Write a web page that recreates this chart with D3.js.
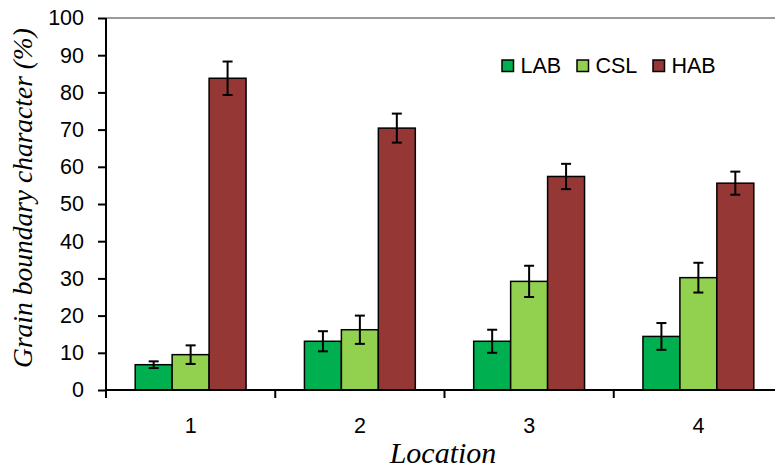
<!DOCTYPE html>
<html>
<head>
<meta charset="utf-8">
<script src="https://cdn.jsdelivr.net/npm/d3@7"></script>
<style>
  body { margin: 0; background: #fff; }
  svg { display: block; }
</style>
</head>
<body>
<svg id="chart"></svg>
<script>
const locations = ["1", "2", "3", "4"];
const series = ["LAB", "CSL", "HAB"];
const colors = ["#00b050", "#92d050", "#953735"];

// mean values per location, one array per series
const lab = [6.8, 13.1, 13.1, 14.4];
const csl = [9.5, 16.2, 29.2, 30.2];
const hab = [83.8, 70.4, 57.4, 55.6];

// error bar half-widths
const labErr = [0.9, 2.7, 3.1, 3.6];
const cslErr = [2.5, 3.8, 4.2, 4.0];
const habErr = [4.5, 3.9, 3.4, 3.1];

const yTicks = [0, 10, 20, 30, 40, 50, 60, 70, 80, 90, 100];

const values = [lab, csl, hab];
const errors = [labErr, cslErr, habErr];

const W = 775, H = 470;
const plotLeft = 106, plotRight = 783, plotTop = 18, plotBottom = 390;

const svg = d3.select("#chart").attr("width", W).attr("height", H);

const x0 = d3.scaleBand().domain(locations).range([plotLeft, plotRight]).padding(0);
const x1 = d3
  .scaleBand()
  .domain(series)
  .range([0, x0.bandwidth()])
  .paddingInner(0)
  .paddingOuter(0.79);
const y = d3.scaleLinear().domain([0, 100]).range([plotBottom, plotTop]);

// top border line
svg
  .append("line")
  .attr("x1", plotLeft)
  .attr("x2", plotRight)
  .attr("y1", plotTop)
  .attr("y2", plotTop)
  .attr("stroke", "#9a9a9a")
  .attr("stroke-width", 2);

// bars
const rows = [];
locations.forEach((loc, i) => {
  series.forEach((s, j) => {
    rows.push({ loc, s, j, v: values[j][i], e: errors[j][i] });
  });
});

const cx = (d) => x0(d.loc) + x1(d.s) + x1.bandwidth() / 2;

svg
  .selectAll(".bar")
  .data(rows)
  .enter()
  .append("rect")
  .attr("class", "bar")
  .attr("x", (d) => x0(d.loc) + x1(d.s))
  .attr("y", (d) => y(d.v))
  .attr("width", x1.bandwidth())
  .attr("height", (d) => y(0) - y(d.v))
  .attr("fill", (d) => colors[d.j])
  .attr("stroke", "#000")
  .attr("stroke-width", 1.5);

// error bars
const cap = 5;
const eb = svg.selectAll(".err").data(rows).enter().append("g").attr("class", "err");
eb.append("line")
  .attr("x1", cx)
  .attr("x2", cx)
  .attr("y1", (d) => y(d.v + d.e))
  .attr("y2", (d) => y(d.v - d.e));
eb.append("line")
  .attr("x1", (d) => cx(d) - cap)
  .attr("x2", (d) => cx(d) + cap)
  .attr("y1", (d) => y(d.v + d.e))
  .attr("y2", (d) => y(d.v + d.e));
eb.append("line")
  .attr("x1", (d) => cx(d) - cap)
  .attr("x2", (d) => cx(d) + cap)
  .attr("y1", (d) => y(d.v - d.e))
  .attr("y2", (d) => y(d.v - d.e));
eb.selectAll("line").attr("stroke", "#000").attr("stroke-width", 2);

// y axis
const yAxis = svg
  .append("g")
  .attr("transform", `translate(${plotLeft},0)`)
  .call(d3.axisLeft(y).tickValues(yTicks).tickSize(8).tickPadding(14));
yAxis.select(".domain").attr("stroke-width", 2).attr("d", `M0,${plotTop}V${plotBottom}`);
yAxis.selectAll(".tick line").attr("stroke-width", 2);
yAxis
  .selectAll(".tick text")
  .style("font-family", "Liberation Sans, Arial, sans-serif")
  .style("font-size", "21.5px")
  .attr("fill", "#000");

// x axis
svg
  .append("line")
  .attr("x1", plotLeft)
  .attr("x2", plotRight)
  .attr("y1", plotBottom)
  .attr("y2", plotBottom)
  .attr("stroke", "#000")
  .attr("stroke-width", 2);

const bounds = locations.map((d) => x0(d)).concat([plotRight]);
svg
  .selectAll(".xtick")
  .data(bounds)
  .enter()
  .append("line")
  .attr("class", "xtick")
  .attr("x1", (d) => d)
  .attr("x2", (d) => d)
  .attr("y1", plotBottom)
  .attr("y2", plotBottom + 8)
  .attr("stroke", "#000")
  .attr("stroke-width", 2);

svg
  .selectAll(".xlabel")
  .data(locations)
  .enter()
  .append("text")
  .attr("class", "xlabel")
  .attr("x", (d) => x0(d) + x0.bandwidth() / 2)
  .attr("y", 433)
  .attr("text-anchor", "middle")
  .style("font-family", "Liberation Sans, Arial, sans-serif")
  .style("font-size", "21.5px")
  .text((d) => d);

// axis titles
svg
  .append("text")
  .attr("x", 443)
  .attr("y", 463)
  .attr("text-anchor", "middle")
  .style("font-family", "Liberation Serif, Times New Roman, serif")
  .style("font-style", "italic")
  .style("font-size", "30px")
  .text("Location");

svg
  .append("text")
  .attr("transform", "translate(32,198) rotate(-90)")
  .attr("text-anchor", "middle")
  .style("font-family", "Liberation Serif, Times New Roman, serif")
  .style("font-style", "italic")
  .style("font-size", "27.5px")
  .text("Grain boundary character (%)");

// legend
const legendX = [502, 577, 653];
const legend = svg
  .selectAll(".legend")
  .data(series)
  .enter()
  .append("g")
  .attr("class", "legend")
  .attr("transform", (d, i) => `translate(${legendX[i]},60)`);
legend
  .append("rect")
  .attr("width", 11.5)
  .attr("height", 11.5)
  .attr("fill", (d, i) => colors[i])
  .attr("stroke", "#000")
  .attr("stroke-width", 1.5);
legend
  .append("text")
  .attr("x", 18.5)
  .attr("y", 13)
  .style("font-family", "Liberation Sans, Arial, sans-serif")
  .style("font-size", "21.5px")
  .text((d) => d);
</script>
</body>
</html>
